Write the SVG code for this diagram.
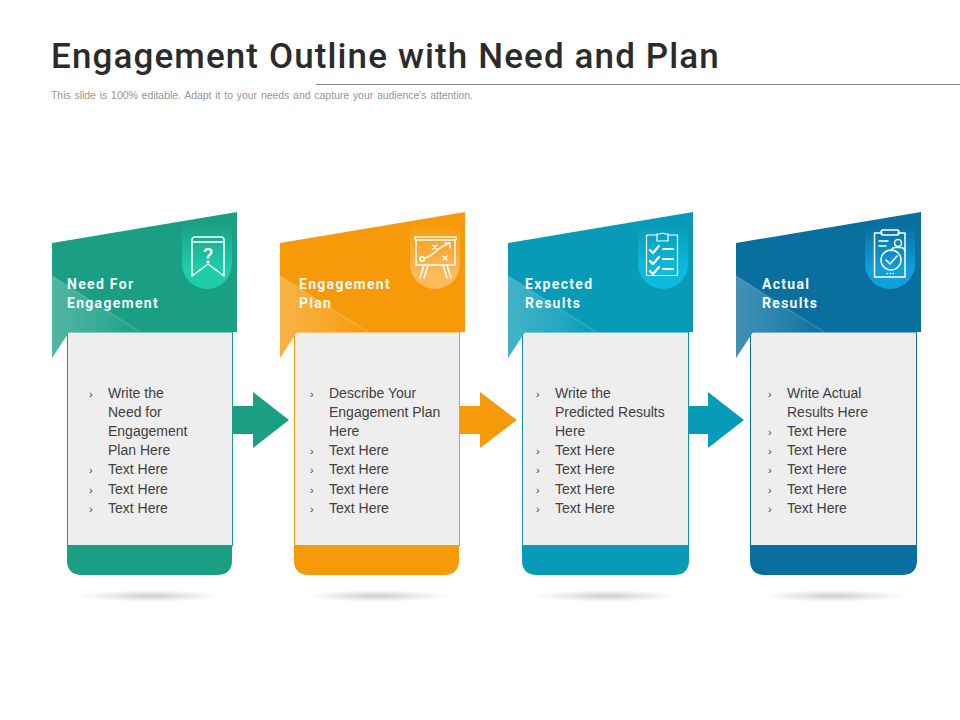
<svg xmlns="http://www.w3.org/2000/svg" width="960" height="720" viewBox="0 0 960 720">
<style>
.title{font-family:"Roboto","Liberation Sans",sans-serif;font-size:35px;font-weight:500;fill:#2b2b2b;letter-spacing:1.12px}
.sub{font-family:"Liberation Sans",Arial,sans-serif;font-size:10.5px;fill:#969696;word-spacing:1px}
.head{font-family:"Roboto","Liberation Sans",sans-serif;font-size:14px;font-weight:700;fill:#f2f8f7;letter-spacing:1.3px}
.item{font-family:"Liberation Sans",Arial,sans-serif;font-size:14px;fill:#404040}
.b{font-size:11px}
.ic{fill:none;stroke:#fff;stroke-width:1.5;stroke-linejoin:round;stroke-linecap:round}
.body{fill:#eeeeee;stroke-width:1}
</style>
<defs>
<linearGradient id="sheen" x1="0" y1="0" x2="1" y2="0"><stop offset="0" stop-color="#fff" stop-opacity=".24"/><stop offset=".6" stop-color="#fff" stop-opacity=".12"/><stop offset="1" stop-color="#fff" stop-opacity="0"/></linearGradient>
<radialGradient id="shadow"><stop offset="0" stop-color="#000" stop-opacity=".2"/><stop offset=".6" stop-color="#000" stop-opacity=".07"/><stop offset="1" stop-color="#000" stop-opacity="0"/></radialGradient>
<linearGradient id="b1" x1="0" y1="0" x2="0" y2="1"><stop offset="0" stop-color="#1fd0ae" stop-opacity="0"/><stop offset=".7" stop-color="#1fcdab"/><stop offset="1" stop-color="#1fcdab"/></linearGradient>
<linearGradient id="b2" x1="0" y1="0" x2="0" y2="1"><stop offset="0" stop-color="#fdb95a" stop-opacity="0"/><stop offset=".75" stop-color="#fdb95a"/><stop offset="1" stop-color="#fdb95a"/></linearGradient>
<linearGradient id="b3" x1="0" y1="0" x2="0" y2="1"><stop offset="0" stop-color="#0cbadc" stop-opacity="0"/><stop offset=".7" stop-color="#0cbadc"/><stop offset="1" stop-color="#0cbadc"/></linearGradient>
<linearGradient id="b4" x1="0" y1="0" x2="0" y2="1"><stop offset="0" stop-color="#109fdc" stop-opacity="0"/><stop offset=".7" stop-color="#109fdc"/><stop offset="1" stop-color="#109fdc"/></linearGradient>
<g id="sh"><path d="M52 276L140 332H69L52 358Z" fill="url(#sheen)"/><path d="M52 276L140 332" fill="none" stroke="#fff" stroke-opacity=".14" stroke-width="1.500"/></g>
</defs>
<rect width="960" height="720" fill="#fff"/>
<text class="title" x="51" y="68">Engagement Outline with Need and Plan</text>
<path d="M316 84.500H960" stroke="#8c8c8c" stroke-width="1"/>
<text class="sub" x="51" y="99" textLength="422" lengthAdjust="spacing">This slide is 100% editable. Adapt it to your needs and capture your audience's attention.</text>

<g id="connectors">
<path d="M232 406H253V392L289 420L253 448V434H232Z" fill="#1a9f85"/>
<path d="M459 406H480V392L517 420L480 448V434H459Z" fill="#f79a0a"/>
<path d="M688 406H708V392L744 420L708 448V434H688Z" fill="#079bb7"/>
</g>

<g id="node-1">
<ellipse cx="150" cy="596" rx="72" ry="6" fill="url(#shadow)"/>
<path class="body" d="M67.500 332H232.500V546H67.500Z" stroke="#1a9f85"/>
<path d="M67 545H232V560Q232 575 217 575H82Q67 575 67 560Z" fill="#1a9f85"/>
<path d="M52 243L237 212V332H69L52 358Z" fill="#1a9f85"/>
<use href="#sh"/>
<path d="M182 224H232V264A25 25 0 0 1 182 264Z" fill="url(#b1)"/>
<path class="ic" d="M192 240Q192 237 195 237H221Q224 237 224 240V276L208 264L192 276ZM192 242H224"/>
<text x="208" y="263" font-family="Roboto,sans-serif" font-size="21" font-weight="500" fill="#fff" text-anchor="middle">?</text>
<text class="head"><tspan x="67" y="289">Need For</tspan><tspan x="67" y="308">Engagement</tspan></text>
<text class="item"><tspan class="b" x="89" y="398">›</tspan><tspan x="108" y="398">Write the</tspan><tspan x="108" y="417">Need for</tspan><tspan x="108" y="436">Engagement</tspan><tspan x="108" y="455">Plan Here</tspan><tspan class="b" x="89" y="474">›</tspan><tspan x="108" y="474">Text Here</tspan><tspan class="b" x="89" y="494">›</tspan><tspan x="108" y="494">Text Here</tspan><tspan class="b" x="89" y="513">›</tspan><tspan x="108" y="513">Text Here</tspan></text>
</g>

<g id="node-2">
<ellipse cx="377" cy="596" rx="72" ry="6" fill="url(#shadow)"/>
<path class="body" d="M294.500 332H459.500V546H294.500Z" stroke="#f79a0a"/>
<path d="M294 545H459V560Q459 575 444 575H309Q294 575 294 560Z" fill="#f79a0a"/>
<path d="M280 243L465 212V332H297L280 358Z" fill="#f79a0a"/>
<use href="#sh" x="228"/>
<path d="M410 224H460V264A25 25 0 0 1 410 264Z" fill="url(#b2)"/>
<g class="ic"><path d="M415 237H456V240H415ZM416 240V265H455V240M424 265L420 278M428 265L424 278M443 265L447 278M447 265L451 278"/><circle cx="422" cy="259" r="2.200"/><path d="M425 258Q431 256 435 252T449 243M445 243H450V248M433 245L437 249M437 245L433 249M443 256L447 260M447 256L443 260"/></g>
<text class="head"><tspan x="299" y="289">Engagement</tspan><tspan x="299" y="308">Plan</tspan></text>
<text class="item"><tspan class="b" x="310" y="398">›</tspan><tspan x="329" y="398">Describe Your</tspan><tspan x="329" y="417">Engagement Plan</tspan><tspan x="329" y="436">Here</tspan><tspan class="b" x="310" y="455">›</tspan><tspan x="329" y="455">Text Here</tspan><tspan class="b" x="310" y="474">›</tspan><tspan x="329" y="474">Text Here</tspan><tspan class="b" x="310" y="494">›</tspan><tspan x="329" y="494">Text Here</tspan><tspan class="b" x="310" y="513">›</tspan><tspan x="329" y="513">Text Here</tspan></text>
</g>

<g id="node-3">
<ellipse cx="606" cy="596" rx="72" ry="6" fill="url(#shadow)"/>
<path class="body" d="M522.500 332H688.500V546H522.500Z" stroke="#079bb7"/>
<path d="M522 545H689V560Q689 575 674 575H537Q522 575 522 560Z" fill="#079bb7"/>
<path d="M508 243L693 212V332H525L508 358Z" fill="#079bb7"/>
<use href="#sh" x="456"/>
<path d="M638 224H688V264A25 25 0 0 1 638 264Z" fill="url(#b3)"/>
<g class="ic"><path d="M657 235H646.500V275.500H677.500V235H668M657 241V234H660L662.500 233L665 234H668V241Z" stroke-width="1.200"/><path stroke-width="2.200" d="M650 250L653 253L659 246M650 261L653 264L659 257M650 271L653 274L659 267M663 249H673M663 259H673M663 269H673"/></g>
<text class="head"><tspan x="525" y="289">Expected</tspan><tspan x="525" y="308">Results</tspan></text>
<text class="item"><tspan class="b" x="536" y="398">›</tspan><tspan x="555" y="398">Write the</tspan><tspan x="555" y="417">Predicted Results</tspan><tspan x="555" y="436">Here</tspan><tspan class="b" x="536" y="455">›</tspan><tspan x="555" y="455">Text Here</tspan><tspan class="b" x="536" y="474">›</tspan><tspan x="555" y="474">Text Here</tspan><tspan class="b" x="536" y="494">›</tspan><tspan x="555" y="494">Text Here</tspan><tspan class="b" x="536" y="513">›</tspan><tspan x="555" y="513">Text Here</tspan></text>
</g>

<g id="node-4">
<ellipse cx="834" cy="596" rx="72" ry="6" fill="url(#shadow)"/>
<path class="body" d="M750.500 332H916.500V546H750.500Z" stroke="#086f9e"/>
<path d="M750 545H917V560Q917 575 902 575H765Q750 575 750 560Z" fill="#086f9e"/>
<path d="M736 243L921 212V332H753L736 358Z" fill="#086f9e"/>
<use href="#sh" x="684"/>
<path d="M865 224H915V264A25 25 0 0 1 865 264Z" fill="url(#b4)"/>
<g class="ic" stroke-width="1.300"><path d="M882 233H874.500V277H905V233H898M883 230H897Q899 230 899 232.500Q899 235 897 235H883Q881 235 881 232.500Q881 230 883 230ZM879 241H888M879 246H886"/><circle cx="898" cy="243" r="3.500"/><path d="M891 251Q892 247.500 895 247.500H901Q904 247.500 905 251"/><circle cx="891" cy="260" r="10"/><path d="M886 260L890 264L897 256"/><path d="M887 273.500H887.500M890 273.500H890.500M893 273.500H893.500"/></g>
<text class="head"><tspan x="762" y="289">Actual</tspan><tspan x="762" y="308">Results</tspan></text>
<text class="item"><tspan class="b" x="768" y="398">›</tspan><tspan x="787" y="398">Write Actual</tspan><tspan x="787" y="417">Results Here</tspan><tspan class="b" x="768" y="436">›</tspan><tspan x="787" y="436">Text Here</tspan><tspan class="b" x="768" y="455">›</tspan><tspan x="787" y="455">Text Here</tspan><tspan class="b" x="768" y="474">›</tspan><tspan x="787" y="474">Text Here</tspan><tspan class="b" x="768" y="494">›</tspan><tspan x="787" y="494">Text Here</tspan><tspan class="b" x="768" y="513">›</tspan><tspan x="787" y="513">Text Here</tspan></text>
</g>
</svg>
